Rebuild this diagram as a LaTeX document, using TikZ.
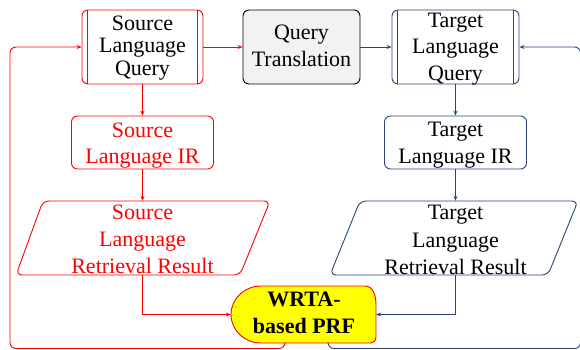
\documentclass[tikz,border=0pt]{standalone}
\usepackage{fontspec}
\setmainfont{Liberation Serif}
\usetikzlibrary{arrows.meta}
\definecolor{navy}{RGB}{40,68,118}
\definecolor{lightgray}{RGB}{242,242,242}
\definecolor{wyellow}{RGB}{255,255,0}
\tikzset{
  txt/.style={align=center,inner sep=0pt,anchor=north},
  boxshape/.style={rounded corners=6pt,line width=0.9pt,inner sep=0pt},
  ghost/.style={inner sep=0pt},
  redline/.style={draw=red,line width=0.9pt},
  blueline/.style={draw=navy,line width=0.9pt},
  arr/.style={-{Stealth[length=5pt,width=4pt]}},
}
\newcommand{\fs}[1]{\fontsize{22}{#1}\selectfont}
\begin{document}
\begin{tikzpicture}[x=1pt,y=-1pt]
\useasboundingbox (0,0) rectangle (580,350);
\clip (0,0) rectangle (580,350);
% top row
\node[boxshape,draw=red,minimum width=121pt,minimum height=74pt] (sq) at (142.5,47) {};
\draw[red,line width=0.9pt] ([xshift=6pt]sq.north west) -- ([xshift=6pt]sq.south west);
\draw[red,line width=0.9pt] ([xshift=-6pt]sq.north east) -- ([xshift=-6pt]sq.south east);
\node[txt,font=\fs{22.5}] (sqT) at (142.5,15.5) {Source\\Language\\Query};
\node[boxshape,draw=black,fill=lightgray,minimum width=117pt,minimum height=74pt] (qt) at (301.5,47) {};
\node[txt,font=\fs{27}] (qtT) at (301.5,25) {Query\\Translation};
\node[boxshape,draw=navy,minimum width=127pt,minimum height=74pt] (tq) at (455.5,47) {};
\draw[navy,line width=0.9pt] ([xshift=6pt]tq.north west) -- ([xshift=6pt]tq.south west);
\draw[navy,line width=0.9pt] ([xshift=-6pt]tq.north east) -- ([xshift=-6pt]tq.south east);
\node[txt,font=\fs{26.5}] (tqT) at (455.5,12.7) {Target\\Language\\Query};
% IR row
\node[boxshape,draw=red,minimum width=142pt,minimum height=53pt] (sir) at (142.5,142.5) {};
\node[txt,font=\fs{26.5},text=red] (sirT) at (142.5,122.7) {Source\\Language IR};
\node[boxshape,draw=navy,minimum width=142pt,minimum height=53pt] (tir) at (455.5,142.5) {};
\node[txt,font=\fs{26.7}] (tirT) at (455.5,121.7) {Target\\Language IR};
% retrieval results (parallelograms)
\node[ghost,minimum width=200pt,minimum height=74pt] (srr) at (142.5,238) {};
\draw[red,line width=0.9pt,rounded corners=6pt] (43,201) -- (270,201) -- (240,275) -- (16,275) -- cycle;
\node[txt,font=\fs{26.7},text=red] (srrT) at (142.5,205) {Source\\Language\\Retrieval Result};
\node[ghost,minimum width=200pt,minimum height=74pt] (trr) at (455.5,238) {};
\draw[navy,line width=0.9pt,rounded corners=6pt] (360,201) -- (578,201) -- (548,275) -- (330,275) -- cycle;
\node[txt,font=\fs{27.5}] (trrT) at (455.5,205) {Target\\Language\\Retrieval Result};
% WRTA
\node[ghost,minimum width=145pt,minimum height=57pt] (wr) at (303.5,314.5) {};
\draw[red,fill=wyellow,line width=0.9pt] (261,343) arc[start angle=90,end angle=270,x radius=30,y radius=28.5] -- (365,286) to[out=0,in=90] (376,305) -- (376,337) to[out=-90,in=0] (370,343) -- cycle;
\node[txt,font=\fontsize{22}{26.7}\selectfont\bfseries] (wrT) at (304,292) {WRTA-\\based PRF};
% connectors
\draw[redline,arr] (sq.east) -- (qt.west);
\draw[blueline,arr] (qt.east) -- (tq.west);
\draw[redline,arr] (sq.south) -- (sir.north);
\draw[redline,arr] (sir.south) -- (srr.north);
\draw[redline,arr] (srr.south) |- (wr.west);
\draw[blueline,arr] (tq.south) -- (tir.north);
\draw[blueline,arr] (tir.south) -- (trr.north);
\draw[blueline,arr] (trr.south) |- (wr.east);
% feedback loops
\coordinate (rc) at (10,348.5);
\coordinate (bc) at (580.5,348.5);
\draw[redline,arr,rounded corners=6pt] ([xshift=-18.5pt]wr.south) |- (rc) |- (sq.west);
\draw[blueline,arr,rounded corners=6pt] ([xshift=24.5pt]wr.south) |- (bc) |- (tq.east);
\end{tikzpicture}
\end{document}
